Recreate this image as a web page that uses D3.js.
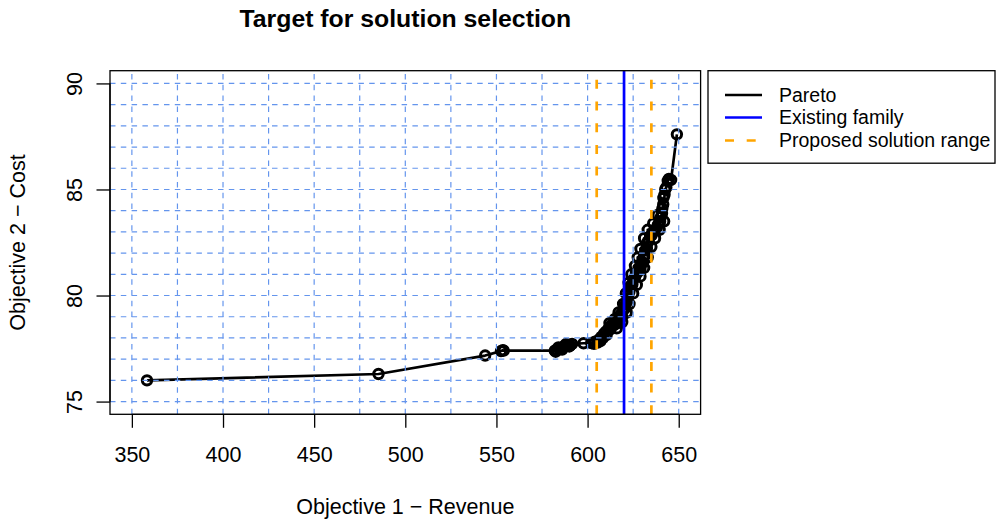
<!DOCTYPE html>
<html>
<head>
<meta charset="utf-8">
<script src="https://cdn.jsdelivr.net/npm/d3@7"></script>
<style>
  html, body { margin: 0; padding: 0; background: #ffffff; }
  svg { display: block; }
  text { font-family: "Liberation Sans", Arial, Helvetica, sans-serif; fill: #000; }
</style>
</head>
<body>
<div id="chart"></div>
<script>
// ---------------- Data ----------------
const titleText = "Target for solution selection";
const xLabel = "Objective 1 \u2212 Revenue";
const yLabel = "Objective 2 \u2212 Cost";

// Pareto front (revenue, cost)
const revenue = [358.3, 485.3, 543.8, 552.5, 553.5, 554.0, 582.0, 582.5, 583.0, 584.0,
  584.5, 585.5, 586.0, 586.5, 587.5, 588.0, 588.5, 589.5, 590.0, 590.5,
  591.5, 597.8, 602.0, 603.5, 604.0, 605.5, 606.0, 607.0, 607.5, 608.5,
  609.0, 610.0, 610.5, 611.5, 612.5, 613.0, 614.5, 615.5, 616.5, 617.5,
  618.0, 619.0, 619.5, 620.5, 621.0, 621.8, 622.3, 623.0, 623.5, 624.5,
  625.0, 626.0, 626.5, 627.5, 628.0, 629.0, 629.5, 630.5, 630.8, 631.5,
  631.8, 632.5, 632.8, 633.5, 634.3, 635.2, 636.0, 637.0, 638.0, 639.0,
  639.8, 640.2, 640.8, 641.0, 641.5, 641.6, 642.2, 642.6, 643.2, 644.0,
  644.6, 645.8, 649.0,
  612.0, 615.0, 617.0, 619.5, 621.0, 622.5, 624.0, 626.0, 627.5, 629.0,
  631.0, 633.0, 636.0, 638.5,
  616.0, 619.0, 621.5, 623.0, 625.0, 627.0, 629.0, 631.0, 633.0, 635.0,
  637.0, 639.5, 642.0];
const cost = [76.0, 76.3, 77.17, 77.38, 77.42, 77.40, 77.40, 77.35, 77.45, 77.55,
  77.48, 77.52, 77.45, 77.58, 77.60, 77.70, 77.62, 77.68, 77.60, 77.65,
  77.72, 77.75, 77.76, 77.72, 77.82, 77.78, 77.90, 77.85, 78.05, 78.00,
  78.20, 78.30, 78.15, 78.45, 78.40, 78.60, 78.60, 78.75, 78.70, 78.90,
  79.10, 79.00, 79.30, 79.40, 79.60, 79.75, 80.00, 80.20, 80.45, 80.50,
  80.75, 80.85, 81.05, 81.10, 81.30, 81.25, 81.50, 81.55, 81.80, 81.90,
  82.15, 82.20, 82.50, 82.55, 82.80, 82.85, 83.00, 83.10, 83.20, 83.40,
  83.50, 83.70, 83.85, 84.10, 84.30, 84.60, 84.75, 85.00, 85.10, 85.40,
  85.50, 85.45, 87.60,
  78.70, 78.90, 79.20, 79.60, 80.10, 80.60, 81.00, 81.40, 81.80, 82.20,
  82.70, 83.10, 83.40, 83.80,
  78.45, 78.75, 79.20, 79.60, 80.10, 80.50, 80.90, 81.30, 81.80, 82.30,
  82.70, 83.10, 83.50];

const existingFamily = [620];
const proposedRange = [605, 635];

const xTicks = [350, 400, 450, 500, 550, 600, 650];
const yTicks = [75, 80, 85, 90];
const gridX = [350, 375, 400, 425, 450, 475, 500, 525, 550, 575, 600, 625, 650];
const gridY = [75, 76, 77, 78, 79, 80, 81, 82, 83, 84, 85, 86, 87, 88, 89, 90];

const xLimits = [350, 650];
const yLimits = [75, 90];

const legendLabels = ["Pareto", "Existing family", "Proposed solution range"];
const legendColors = ["#000000", "#0000ff", "#ffa500"];
const legendDashes = [null, null, "9,12.7"];

// ---------------- Layout ----------------
const W = 998, H = 520;
const box = { left: 110, right: 700.6, top: 70.7, bottom: 414.3 };
const ext = v => [v[0] - (v[1] - v[0]) * 0.04, v[1] + (v[1] - v[0]) * 0.04];

const x = d3.scaleLinear().domain(ext(xLimits)).range([box.left, box.right]);
const y = d3.scaleLinear().domain(ext(yLimits)).range([box.bottom, box.top]);

const svg = d3.select("#chart").append("svg")
  .attr("width", W).attr("height", H);

svg.append("rect").attr("x", 0).attr("y", 0).attr("width", W).attr("height", H).attr("fill", "#fff");

const lw = 2.7;
const gridColor = "#6495ed";

svg.append("defs").append("clipPath").attr("id", "plotclip")
  .append("rect").attr("x", box.left).attr("y", box.top)
  .attr("width", box.right - box.left).attr("height", box.bottom - box.top);

const plot = svg.append("g").attr("clip-path", "url(#plotclip)");

// Pareto line and points (ordered by revenue)
const pts = d3.sort(revenue.map((r, i) => [r, cost[i]]), d => d[0], d => d[1]);
plot.append("path")
  .datum(pts)
  .attr("d", d3.line().x(d => x(d[0])).y(d => y(d[1])))
  .attr("fill", "none").attr("stroke", "#000").attr("stroke-width", lw)
  .attr("stroke-linejoin", "round");

plot.selectAll("circle.pt").data(pts).enter().append("circle")
  .attr("class", "pt")
  .attr("cx", d => x(d[0])).attr("cy", d => y(d[1]))
  .attr("r", 4.7)
  .attr("fill", "none").attr("stroke", "#000").attr("stroke-width", 3);

// Grid (over the data, as in the reference)
plot.selectAll("line.gx").data(gridX).enter().append("line")
  .attr("x1", d => x(d)).attr("x2", d => x(d))
  .attr("y1", box.bottom).attr("y2", box.top)
  .attr("stroke", gridColor).attr("stroke-width", 1.2)
  .attr("stroke-dasharray", "5.5,5.3");
plot.selectAll("line.gy").data(gridY).enter().append("line")
  .attr("x1", box.left).attr("x2", box.right)
  .attr("y1", d => y(d)).attr("y2", d => y(d))
  .attr("stroke", gridColor).attr("stroke-width", 1.2)
  .attr("stroke-dasharray", "5.5,5.3");

// Existing family (blue)
plot.selectAll("line.fam").data(existingFamily).enter().append("line")
  .attr("x1", d => x(d)).attr("x2", d => x(d))
  .attr("y1", box.bottom).attr("y2", box.top)
  .attr("stroke", legendColors[1]).attr("stroke-width", lw);

// Proposed range (orange dashed)
plot.selectAll("line.prop").data(proposedRange).enter().append("line")
  .attr("x1", d => x(d)).attr("x2", d => x(d))
  .attr("y1", box.bottom).attr("y2", box.top)
  .attr("stroke", legendColors[2]).attr("stroke-width", lw)
  .attr("stroke-dasharray", legendDashes[2]);

// Box
svg.append("rect")
  .attr("x", box.left).attr("y", box.top)
  .attr("width", box.right - box.left).attr("height", box.bottom - box.top)
  .attr("fill", "none").attr("stroke", "#000").attr("stroke-width", 1.3);

// Axes
const fs = 21.5;
const xAxis = d3.axisBottom(x).tickValues(xTicks).tickSize(13.5).tickPadding(18.5).tickFormat(d3.format("d"));
const gx = svg.append("g").attr("transform", `translate(0,${box.bottom})`).call(xAxis);
gx.select(".domain").attr("d", `M${x(xTicks[0])},0H${x(xTicks[xTicks.length - 1])}`).attr("stroke-width", 1.3);
gx.selectAll(".tick line").attr("stroke-width", 1.3);
gx.selectAll(".tick text").attr("font-size", fs).attr("font-family", "Liberation Sans, Arial, sans-serif").attr("fill", "#000");

const yAxis = d3.axisLeft(y).tickValues(yTicks).tickSize(13.5).tickFormat(d3.format("d"));
const gy = svg.append("g").attr("transform", `translate(${box.left},0)`).call(yAxis);
gy.select(".domain").attr("d", `M0,${y(yTicks[0])}V${y(yTicks[yTicks.length - 1])}`).attr("stroke-width", 1.3);
gy.selectAll(".tick line").attr("stroke-width", 1.3);
gy.selectAll(".tick text").remove();
gy.selectAll(".tick").append("text")
  .attr("transform", "translate(-28.3,0) rotate(-90)")
  .attr("text-anchor", "middle")
  .attr("font-size", fs)
  .attr("fill", "#000")
  .text(d => d);

// Title and axis labels
const cx = (box.left + box.right) / 2;
svg.append("text").attr("x", cx).attr("y", 27).attr("text-anchor", "middle")
  .attr("font-size", 24.8).attr("font-weight", "bold").text(titleText);
svg.append("text").attr("x", cx).attr("y", 514).attr("text-anchor", "middle")
  .attr("font-size", fs).text(xLabel);
svg.append("text")
  .attr("transform", `translate(25,${(box.top + box.bottom) / 2}) rotate(-90)`)
  .attr("text-anchor", "middle").attr("font-size", fs).text(yLabel);

// Legend
const lfs = 19.5;
const lg = svg.append("g");
lg.append("rect").attr("x", 708).attr("y", 70.7).attr("width", 287).attr("height", 92.5)
  .attr("fill", "#fff").attr("stroke", "#000").attr("stroke-width", 1.3);
const rowY = [95, 117.5, 140.5];
legendLabels.forEach((lab, i) => {
  const ln = lg.append("line").attr("x1", 725).attr("x2", 762)
    .attr("y1", rowY[i]).attr("y2", rowY[i])
    .attr("stroke", legendColors[i]).attr("stroke-width", lw);
  if (legendDashes[i]) ln.attr("stroke-dasharray", legendDashes[i]);
  lg.append("text").attr("x", 779).attr("y", rowY[i] + 6.9).attr("font-size", lfs).text(lab);
});
</script>
</body>
</html>
